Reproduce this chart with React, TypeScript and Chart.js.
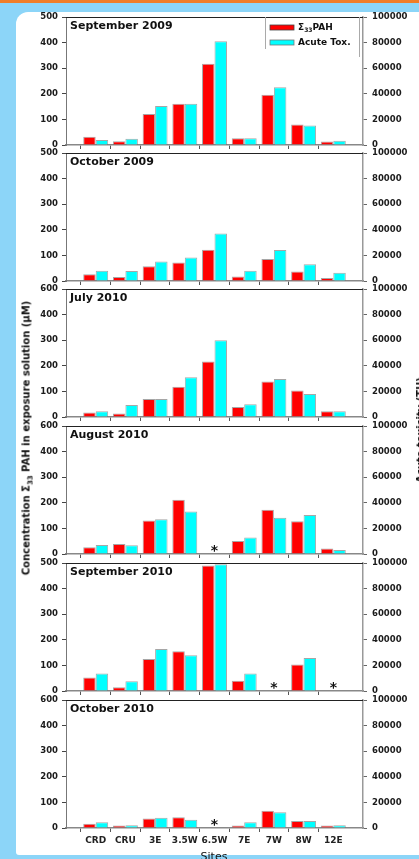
import React, { useEffect, useRef } from 'react';
import { Chart, registerables } from 'chart.js';

Chart.register(...registerables);

// ---------- data ----------
const sites = ['CRD', 'CRU', '3E', '3.5W', '6.5W', '7E', '7W', '8W', '12E'];
const panelTitles = ['September 2009', 'October 2009', 'July 2010', 'August 2010', 'September 2010', 'October 2010'];

const pahSep2009 = [32, 15, 121, 161, 317, 26, 196, 80, 14];
const toxSep2009 = [3900, 4900, 30400, 32200, 81000, 5200, 45200, 15300, 3400];
const pahOct2009 = [26, 16, 58, 72, 122, 18, 86, 37, 12];
const toxOct2009 = [8100, 7900, 15200, 18300, 37200, 8100, 24300, 13100, 6500];
const pahJul2010 = [18, 14, 70, 118, 217, 39, 139, 104, 22];
const toxJul2010 = [4400, 9400, 14000, 31000, 59900, 9900, 29700, 18000, 4400];
const pahAug2010 = [26, 39, 131, 212, null, 51, 173, 128, 21];
const toxAug2010 = [7100, 6800, 27200, 33200, null, 12800, 28300, 30400, 3100];
const pahSep2010 = [53, 15, 125, 155, 490, 40, null, 104, null];
const toxSep2010 = [13700, 7600, 32900, 27900, 99000, 13700, null, 25800, null];
const pahOct2010 = [17, 10, 37, 42, null, 10, 67, 27, 10];
const toxOct2010 = [4400, 2100, 8100, 6500, null, 4400, 12300, 5500, 2100];

const pahSeries = [pahSep2009, pahOct2009, pahJul2010, pahAug2010, pahSep2010, pahOct2010];
const toxSeries = [toxSep2009, toxOct2009, toxJul2010, toxAug2010, toxSep2010, toxOct2010];
const missingSites: string[][] = [[], [], [], ['6.5W'], ['7W', '12E'], ['6.5W']];

const leftTicks500 = ['0', '100', '200', '300', '400', '500'];
const leftTicks600 = ['0', '100', '200', '300', '400', '600'];
const leftTickSets = [leftTicks500, leftTicks500, leftTicks600, leftTicks600, leftTicks500, leftTicks600];
const rightTicks = ['0', '20000', '40000', '60000', '80000', '100000'];

const seriesLabels = ['PAH', 'Acute Tox.'];

// ---------- style / layout ----------
const RED = '#FF0000';
const CYAN = '#00FFFF';
const FONT = '"DejaVu Sans", "Liberation Sans", Arial, sans-serif';
const PANEL_TOPS = [17, 153, 289, 426, 563, 700];
const PLOT_H = 128;
const PAD_TOP = 8;
const W = 419;

function Panel({ idx }: { idx: number }) {
  const ref = useRef<HTMLCanvasElement>(null);
  const isLast = idx === 5;
  const bottomH = isLast ? 24 : 8;
  const h = PAD_TOP + PLOT_H + bottomH;

  useEffect(() => {
    const labels = ['', ...sites, ''];
    const pad = (a: (number | null)[]) => [null, ...a, null];
    const lt = leftTickSets[idx];

    const overlay = {
      id: 'overlay' + idx,
      afterDatasetsDraw(chart: any) {
        const { ctx, chartArea } = chart;
        const { left, right, top } = chartArea;
        ctx.save();
        // top frame line
        ctx.strokeStyle = '#222';
        ctx.lineWidth = 1;
        ctx.beginPath();
        ctx.moveTo(left, top + 0.5);
        ctx.lineTo(right, top + 0.5);
        ctx.stroke();
        // panel title
        ctx.fillStyle = '#111';
        ctx.font = 'bold 11px ' + FONT;
        ctx.textAlign = 'left';
        ctx.textBaseline = 'middle';
        ctx.fillText(panelTitles[idx], left + 4, top + 9.5);
        // asterisks for missing samples
        const xs = chart.scales.x;
        const ys = chart.scales.y;
        ctx.font = 'bold 14px ' + FONT;
        ctx.textAlign = 'center';
        ctx.textBaseline = 'alphabetic';
        missingSites[idx].forEach((s) => {
          const i = sites.indexOf(s) + 1;
          ctx.fillText('*', xs.getPixelForValue(i), ys.getPixelForValue(0) + 1);
        });
        // legend
        if (idx === 0) {
          const bx = right - 98;
          ctx.strokeStyle = '#aaa';
          ctx.lineWidth = 1;
          ctx.beginPath();
          ctx.moveTo(bx + 0.5, top);
          ctx.lineTo(bx + 0.5, top + 32);
          ctx.moveTo(right - 3.5, top);
          ctx.lineTo(right - 3.5, top + 40);
          ctx.stroke();
          const sx = bx + 5;
          ctx.fillStyle = RED;
          ctx.fillRect(sx, top + 8, 24, 5);
          ctx.strokeStyle = '#444';
          ctx.lineWidth = 0.8;
          ctx.strokeRect(sx, top + 8, 24, 5);
          ctx.fillStyle = CYAN;
          ctx.fillRect(sx, top + 23, 24, 5);
          ctx.strokeStyle = '#777';
          ctx.strokeRect(sx, top + 23, 24, 5);
          ctx.fillStyle = '#111';
          ctx.textAlign = 'left';
          ctx.textBaseline = 'middle';
          const tx = sx + 28;
          ctx.font = 'bold 9px ' + FONT;
          ctx.fillText('Σ', tx, top + 10.5);
          const w1 = ctx.measureText('Σ').width;
          ctx.font = 'bold 6px ' + FONT;
          ctx.fillText('33', tx + w1, top + 13);
          const w2 = ctx.measureText('33').width;
          ctx.font = 'bold 9px ' + FONT;
          ctx.fillText(seriesLabels[0], tx + w1 + w2, top + 10.5);
          ctx.fillText(seriesLabels[1], tx, top + 25.5);
        }
        ctx.restore();
      },
    };

    const tickFont = { family: FONT, size: 8.5, weight: 'bold' as const };
    const chart = new Chart(ref.current!, {
      type: 'bar',
      data: {
        labels,
        datasets: [
          {
            label: 'Σ33PAH',
            data: pad(pahSeries[idx]),
            backgroundColor: RED,
            borderColor: 'rgba(0,0,0,0.35)',
            borderWidth: 1,
            borderSkipped: 'bottom',
            yAxisID: 'y',
          },
          {
            label: seriesLabels[1],
            data: pad(toxSeries[idx]),
            backgroundColor: CYAN,
            borderColor: 'rgba(0,0,0,0.35)',
            borderWidth: 1,
            borderSkipped: 'bottom',
            yAxisID: 'y1',
          },
        ],
      },
      options: {
        animation: false,
        responsive: false,
        maintainAspectRatio: false,
        devicePixelRatio: 1,
        layout: { padding: { top: PAD_TOP, left: 0, right: 0, bottom: 0 } },
        plugins: { legend: { display: false }, tooltip: { enabled: false } },
        datasets: { bar: { categoryPercentage: 0.84, barPercentage: 1 } },
        scales: {
          x: {
            type: 'category',
            offset: false,
            grid: {
              display: true,
              drawOnChartArea: false,
              drawTicks: true,
              tickLength: 4,
              color: (c: any) => (c.index === 0 || c.index === labels.length - 1 ? 'rgba(0,0,0,0)' : '#555'),
            },
            border: { display: true, color: '#888', width: 1.5 },
            ticks: {
              display: isLast,
              autoSkip: false,
              maxRotation: 0,
              minRotation: 0,
              padding: 3,
              color: '#222',
              font: { family: FONT, size: 9, weight: 'bold' },
            },
            afterFit: (s: any) => {
              s.height = bottomH;
              s.paddingLeft = 0;
              s.paddingRight = 0;
            },
          },
          y: {
            position: 'left',
            min: 0,
            max: 500,
            ticks: {
              stepSize: 100,
              padding: 4,
              color: '#1a1a1a',
              font: tickFont,
              callback: (_v: any, i: number) => lt[i],
            },
            grid: { drawOnChartArea: false, tickLength: 4, color: '#444' },
            border: { display: true, color: '#777', width: 1 },
            afterFit: (s: any) => {
              s.width = 66;
              s.paddingTop = 0;
              s.paddingBottom = 0;
            },
          },
          y1: {
            position: 'right',
            min: 0,
            max: 100000,
            ticks: {
              stepSize: 20000,
              padding: 5,
              color: '#1a1a1a',
              font: tickFont,
              callback: (_v: any, i: number) => rightTicks[i],
            },
            grid: { drawOnChartArea: false, tickLength: 4, color: '#666' },
            border: { display: true, color: '#999', width: 1.5 },
            afterFit: (s: any) => {
              s.width = W - 363;
              s.paddingTop = 0;
              s.paddingBottom = 0;
            },
          },
        },
      },
      plugins: [overlay],
    } as any);
    return () => chart.destroy();
  }, [idx]);

  return (
    <canvas
      ref={ref}
      width={W}
      height={h}
      style={{ position: 'absolute', left: 0, top: PANEL_TOPS[idx] - PAD_TOP, width: W, height: h }}
    />
  );
}

export default function App() {
  return (
    <div
      style={{
        position: 'absolute',
        left: 0,
        top: 0,
        width: W,
        height: 859,
        overflow: 'hidden',
        background: '#8CD5F8',
        fontFamily: FONT,
      }}
    >
      <div style={{ position: 'absolute', left: 0, top: 0, width: W, height: 3, background: '#F07D28' }} />
      <div
        style={{
          position: 'absolute',
          left: 16,
          top: 12,
          width: 430,
          height: 843,
          background: '#fff',
          borderTopLeftRadius: 12,
          borderBottomLeftRadius: 3,
        }}
      />
      {[0, 1, 2, 3, 4, 5].map((i) => (
        <Panel key={i} idx={i} />
      ))}
      <div
        style={{
          position: 'absolute',
          left: 28,
          top: 438,
          transform: 'translate(-50%, -50%) rotate(-90deg)',
          whiteSpace: 'nowrap',
          fontSize: 10,
          fontWeight: 'bold',
          lineHeight: 1,
          color: '#111',
        }}
      >
        Concentration Σ<sub style={{ fontSize: 7 }}>33</sub> PAH in exposure solution (μM)
      </div>
      <div
        style={{
          position: 'absolute',
          left: 421,
          top: 430,
          transform: 'translate(-50%, -50%) rotate(-90deg)',
          whiteSpace: 'nowrap',
          fontSize: 10,
          fontWeight: 'bold',
          lineHeight: 1,
          color: '#111',
        }}
      >
        Acute toxicity (TU)
      </div>
      <div
        style={{
          position: 'absolute',
          left: 214,
          top: 851,
          transform: 'translateX(-50%)',
          whiteSpace: 'nowrap',
          fontSize: 11,
          lineHeight: 1,
          color: '#111',
        }}
      >
        Sites
      </div>
    </div>
  );
}
